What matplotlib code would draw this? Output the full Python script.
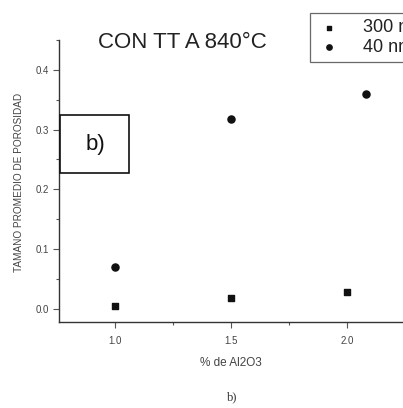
import matplotlib
matplotlib.use("Agg")
import matplotlib.pyplot as plt
from matplotlib.patches import Rectangle
from matplotlib.ticker import MultipleLocator

plt.rcParams['font.family'] = ['Liberation Sans', 'DejaVu Sans']

# data
al2o3_300 = [1.0, 1.5, 2.0]
poros_300 = [0.004, 0.018, 0.028]
al2o3_40 = [1.0, 1.5, 2.08]
poros_40 = [0.070, 0.317, 0.360]

labels = ['300 nm', '40 nm']
title = 'CON TT A 840°C'
xlabel = '% de Al2O3'
ylabel = 'TAMANO PROMEDIO DE POROSIDAD'

W, H = 403, 408
fig = plt.figure(figsize=(W / 100, H / 100), dpi=100)
fig.patch.set_facecolor('white')

# axes: left spine at x=59px, bottom spine at y=322px, top of axis at y=40px
ax = fig.add_axes([59 / W, (H - 322) / H, (W - 59) / W, (322 - 40) / H])
ax.set_xlim(0.76, 2.241)
ax.set_ylim(-0.022, 0.45)

ax.scatter(al2o3_300, poros_300, marker='s', s=22, color='#111111', label=labels[0], zorder=3)
ax.scatter(al2o3_40, poros_40, marker='o', s=26, color='#111111', label=labels[1], zorder=3)

for side in ['top', 'right']:
    ax.spines[side].set_visible(False)
for side in ['left', 'bottom']:
    ax.spines[side].set_color('#333333')
    ax.spines[side].set_linewidth(1.0)

ax.xaxis.set_major_locator(MultipleLocator(0.5))
ax.xaxis.set_minor_locator(MultipleLocator(0.25))
ax.yaxis.set_major_locator(MultipleLocator(0.1))
ax.yaxis.set_minor_locator(MultipleLocator(0.05))
ax.tick_params(which='major', direction='out', length=4, width=0.8, colors='#555555',
               labelsize=7, labelcolor='#444444')
ax.tick_params(which='minor', direction='out', length=2.5, width=0.8, colors='#555555')
ax.xaxis.set_major_formatter(plt.FuncFormatter(lambda v, p: f'{v:.1f}'))
ax.yaxis.set_major_formatter(plt.FuncFormatter(lambda v, p: f'{v:.1f}'))
ax.tick_params(axis='x', pad=6)

ax.set_xlabel(xlabel, fontsize=8.5, color='#444444', labelpad=8)
fig.text(19 / W, 1 - 182 / H, ylabel, rotation=90, ha='center', va='center',
         fontsize=7.2, color='#444444')

fig.text(182 / W, 1 - 42 / H, title, ha='center', va='center', fontsize=16, color='#222222')

# boxed panel label
fig.patches.append(Rectangle((60 / W, 1 - 173 / H), 69 / W, 58 / H, transform=fig.transFigure,
                             facecolor='white', edgecolor='#111111', linewidth=1.2, zorder=5))
fig.text(95 / W, 1 - 144 / H, 'b)', ha='center', va='center', fontsize=16, color='#111111', zorder=6)

leg = fig.legend(loc='upper left', bbox_to_anchor=(310 / W, 1 - 13 / H), fontsize=13,
                 frameon=True, fancybox=False, edgecolor='#444444', handletextpad=1.2,
                 borderpad=0.35, labelspacing=0.15, handlelength=1.4, markerscale=0.75,
                 borderaxespad=0)
leg.get_frame().set_linewidth(0.9)
for t in leg.get_texts():
    t.set_color('#222222')

fig.text(232 / W, 1 - 397 / H, 'b)', ha='center', va='center', fontsize=9,
         family=['Liberation Serif', 'DejaVu Serif'], color='#333333')

fig.savefig('out.png', dpi=100)
